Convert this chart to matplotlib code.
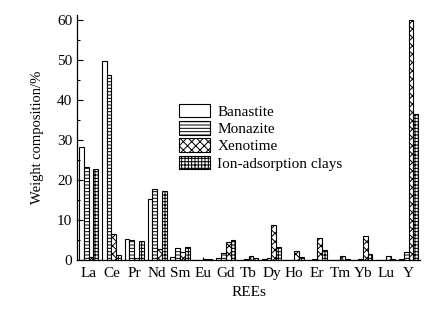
import numpy as np
import matplotlib
matplotlib.use("Agg")
import matplotlib.pyplot as plt
from matplotlib.ticker import MultipleLocator

plt.rcParams['font.family'] = ['Liberation Serif', 'DejaVu Serif']
plt.rcParams['hatch.linewidth'] = 0.7

# Rare earth elements and weight composition (%)
rees = ['La', 'Ce', 'Pr', 'Nd', 'Sm', 'Eu', 'Gd', 'Tb', 'Dy', 'Ho', 'Er', 'Tm', 'Yb', 'Lu', 'Y']
banastite = [28.1, 49.6, 5.3, 15.3, 0.7, 0.1, 0.4, 0.1, 0.2, 0.05, 0.1, 0.05, 0.1, 0.05, 0.3]
monazite = [23.2, 46.1, 5.0, 17.7, 3.0, 0.1, 1.8, 0.2, 0.5, 0.1, 0.2, 0.05, 0.3, 0.05, 2.1]
xenotime = [0.8, 6.5, 0.5, 2.8, 2.0, 0.3, 4.4, 1.1, 8.7, 2.2, 5.5, 0.9, 6.0, 1.0, 60.0]
ion_clays = [22.7, 1.3, 4.8, 17.3, 3.2, 0.2, 4.9, 0.6, 3.2, 0.7, 2.4, 0.3, 1.4, 0.2, 36.5]

series = [banastite, monazite, xenotime, ion_clays]
names = ['Banastite', 'Monazite', 'Xenotime', 'Ion-adsorption clays']
hatches = ['', '-----', 'xxxx', '+++++']

fig = plt.figure(figsize=(4.38, 3.10), dpi=100)
ax = fig.add_axes([0.176, 0.161, 0.783, 0.789])

x = np.arange(len(rees))
w = 0.21
for i, (vals, name, h) in enumerate(zip(series, names, hatches)):
    ax.bar(x + (i - 1.5) * w, vals, w, color='white', edgecolor='black',
           linewidth=0.8, hatch=h, label=name)

ax.set_xlim(-0.5, 14.5)
ax.set_ylim(0, 61)
ax.set_xticks(x)
ax.set_xticklabels(rees, fontsize=11)
ax.yaxis.set_major_locator(MultipleLocator(10))
ax.yaxis.set_minor_locator(MultipleLocator(5))
ax.tick_params(axis='y', which='both', direction='in', labelsize=11, width=0.8)
ax.tick_params(axis='y', which='major', length=4)
ax.tick_params(axis='y', which='minor', length=2)
ax.tick_params(axis='x', direction='in', length=2, width=0.8, pad=5)
ax.spines['top'].set_visible(False)
ax.spines['right'].set_visible(False)
ax.spines['left'].set_linewidth(0.9)
ax.spines['bottom'].set_linewidth(0.9)

ax.set_xlabel('REEs', fontsize=11, labelpad=4)
ax.set_ylabel('Weight composition/%', fontsize=10.5, labelpad=9)

ax.legend(loc='upper left', bbox_to_anchor=(0.28, 0.665), frameon=False,
          fontsize=11, handlelength=2.0, handleheight=1.0, labelspacing=0.15,
          handletextpad=0.5, borderaxespad=0)

fig.savefig('out.png', dpi=100)
